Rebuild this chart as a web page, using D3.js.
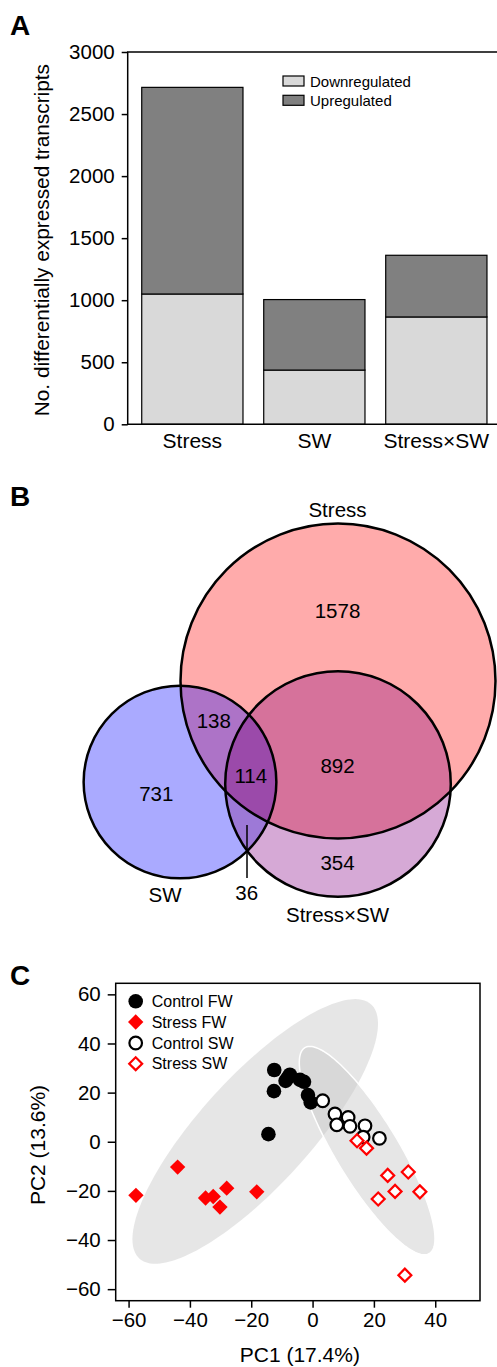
<!DOCTYPE html>
<html>
<head>
<meta charset="utf-8">
<script src="https://cdn.jsdelivr.net/npm/d3@7"></script>
<style>
  body { margin: 0; background: #fff; }
  svg { display: block; font-family: "Liberation Sans", Arial, Helvetica, sans-serif; }
</style>
</head>
<body>
<svg id="fig" width="497" height="1367"></svg>
<script>
// ---------- Panel A: differentially expressed transcripts ----------
const groups = ["Stress", "SW", "Stress\u00D7SW"];
const downregulated = [1050, 437, 865];
const upregulated = [1665, 568, 497];
const yTicksA = [0, 500, 1000, 1500, 2000, 2500, 3000];
const legendA = ["Downregulated", "Upregulated"];

// ---------- Panel B: Venn region counts ----------
const vennSets = ["Stress", "SW", "Stress\u00D7SW"];
const onlyStress = 1578;
const onlySW = 731;
const onlyInteraction = 354;
const stressAndSW = 138;
const stressAndInteraction = 892;
const swAndInteraction = 36;
const allThree = 114;

// ---------- Panel C: PCA scores ----------
const controlFW = [[-12.5, 29.2], [-7.4, 27.3], [-8.1, 26.0], [-8.8, 24.8], [-12.6, 20.6],
                   [-4.1, 25.2], [-2.8, 24.4], [-1.5, 19.0], [-0.6, 16.0], [-14.4, 3.1]];
const stressFW = [[-57.6, -21.8], [-44.0, -10.3], [-34.9, -22.9], [-32.4, -22.3],
                  [-30.2, -26.6], [-28.0, -18.9], [-18.2, -20.4]];
const controlSW = [[3.3, 16.7], [7.3, 11.3], [7.9, 6.9], [11.6, 9.9], [12.2, 6.3],
                   [17.1, 6.5], [16.5, 1.9], [21.8, 1.4]];
const stressSW = [[14.5, 0.4], [17.6, -2.6], [24.5, -13.7], [31.2, -12.3], [26.9, -20.2],
                  [21.4, -23.3], [35.0, -20.4], [30.1, -54.3]];
// group ellipses: centre, first and second half-axis vectors (PC units)
const ellipseFW = { c: [-18.7, 4.2], u: [37.8, 51.7], v: [13.2, -15.1] };
const ellipseSW = { c: [17.8, -3.6], u: [20.3, -41.9], v: [-8.8, -6.6] };
const xTicksC = [-60, -40, -20, 0, 20, 40];
const yTicksC = [-60, -40, -20, 0, 20, 40, 60];
const legendC = ["Control FW", "Stress FW", "Control SW", "Stress SW"];
const xTitleC = "PC1 (17.4%)";
const yTitleC = "PC2 (13.6%)";

const svg = d3.select("#fig");
const fmt = d => d < 0 ? "\u2212" + Math.abs(d) : String(d);

function panelLetter(t, y) {
  svg.append("text").attr("x", 10).attr("y", y)
    .attr("font-size", 28).attr("font-weight", "bold").text(t);
}

// ================= Panel A =================
panelLetter("A", 35);
const A = { left: 127.7, right: 501, top: 52, bottom: 424.3 };
const xA = d3.scaleBand().domain(groups).range([A.left, A.right])
  .paddingInner(0.17).paddingOuter(0.115);
const yA = d3.scaleLinear().domain([0, 3000]).range([A.bottom, A.top]);

const rowsA = groups.map((g, i) => ({ group: g, down: downregulated[i], up: upregulated[i] }));
const stacked = d3.stack().keys(["down", "up"])(rowsA);
const fillA = { down: "#d9d9d9", up: "#808080" };

const gA = svg.append("g");
stacked.forEach(layer => {
  gA.append("g").selectAll("rect").data(layer).join("rect")
    .attr("x", d => xA(d.data.group))
    .attr("width", xA.bandwidth())
    .attr("y", d => yA(d[1]))
    .attr("height", d => yA(d[0]) - yA(d[1]))
    .attr("fill", fillA[layer.key])
    .attr("stroke", "#000").attr("stroke-width", 1.2);
});

// frame
gA.append("path")
  .attr("d", `M${A.right},${A.top}H${A.left}V${A.bottom}H${A.right}`)
  .attr("fill", "none").attr("stroke", "#000").attr("stroke-width", 1.5);

const axA = gA.append("g").attr("transform", `translate(${A.left},0)`)
  .call(d3.axisLeft(yA).tickValues(yTicksA).tickFormat(d3.format("d"))
    .tickSize(6).tickPadding(7).tickSizeOuter(0));
axA.select(".domain").remove();
axA.selectAll("line").attr("stroke-width", 1.5);
axA.selectAll("text").attr("font-size", 20.5).attr("font-family", null).attr("fill", "#000");

gA.append("g").selectAll("text").data(groups).join("text")
  .attr("x", d => xA(d) + xA.bandwidth() / 2)
  .attr("y", 448)
  .attr("text-anchor", "middle").attr("font-size", 21).text(d => d);

gA.append("text")
  .attr("transform", `translate(49,${(A.top + A.bottom) / 2 + 2}) rotate(-90)`)
  .attr("text-anchor", "middle").attr("font-size", 20.8)
  .text("No. differentially expressed transcripts");

const legA = gA.append("g");
legendA.forEach((t, i) => {
  const key = i === 0 ? "down" : "up";
  legA.append("rect").attr("x", 283).attr("y", 76 + i * 19.3)
    .attr("width", 21).attr("height", 10)
    .attr("fill", fillA[key]).attr("stroke", "#000").attr("stroke-width", 1.2);
  legA.append("text").attr("x", 310).attr("y", 86.5 + i * 19.3)
    .attr("font-size", 15).text(t);
});

// ================= Panel B =================
panelLetter("B", 506);
const totals = [
  onlyStress + stressAndSW + stressAndInteraction + allThree,
  onlySW + stressAndSW + swAndInteraction + allThree,
  onlyInteraction + stressAndInteraction + swAndInteraction + allThree
];
const rScale = d3.scaleSqrt().domain([0, totals[0]]).range([0, 157.5]);
const centres = [[338, 681], [180, 782], [338, 784]];
const circles = vennSets.map((s, i) => ({ name: s, cx: centres[i][0], cy: centres[i][1], r: rScale(totals[i]) }));
const [cStress, cSW, cInt] = circles;

const defs = svg.append("defs");
circles.forEach((c, i) => {
  defs.append("clipPath").attr("id", "clip" + i)
    .append("circle").attr("cx", c.cx).attr("cy", c.cy).attr("r", c.r);
});

const gB = svg.append("g");
const disc = (sel, c, fill) => sel.append("circle")
  .attr("cx", c.cx).attr("cy", c.cy).attr("r", c.r).attr("fill", fill);

disc(gB, cStress, "#ffabab");
disc(gB, cInt, "#d6a9d6");
disc(gB, cSW, "#aaaaff");
disc(gB.append("g").attr("clip-path", "url(#clip0)"), cInt, "#d6729b");
disc(gB.append("g").attr("clip-path", "url(#clip0)"), cSW, "#ad73c7");
disc(gB.append("g").attr("clip-path", "url(#clip2)"), cSW, "#9d79d7");
disc(gB.append("g").attr("clip-path", "url(#clip0)").append("g").attr("clip-path", "url(#clip2)"), cSW, "#9b4aaa");

gB.selectAll("circle.outline").data(circles).join("circle")
  .attr("class", "outline")
  .attr("cx", d => d.cx).attr("cy", d => d.cy).attr("r", d => d.r)
  .attr("fill", "none").attr("stroke", "#000").attr("stroke-width", 2.5);

// leader line for the small SW ∩ Stress×SW region
gB.append("line").attr("x1", 247).attr("x2", 247).attr("y1", 825).attr("y2", 878)
  .attr("stroke", "#000").attr("stroke-width", 1.5);

const vennLabels = [
  { t: onlyStress, x: 337.5, y: 618 },
  { t: stressAndSW, x: 213.8, y: 728 },
  { t: allThree, x: 250.8, y: 782.5 },
  { t: stressAndInteraction, x: 337.5, y: 773 },
  { t: onlySW, x: 156.3, y: 801 },
  { t: onlyInteraction, x: 337.5, y: 870 },
  { t: swAndInteraction, x: 246.7, y: 899.5 }
];
gB.append("g").selectAll("text").data(vennLabels).join("text")
  .attr("x", d => d.x).attr("y", d => d.y)
  .attr("text-anchor", "middle").attr("font-size", 20.5).text(d => d.t);

const setLabelPos = [[337.5, 517], [165, 902], [337.5, 922]];
gB.append("g").selectAll("text").data(vennSets).join("text")
  .attr("x", (d, i) => setLabelPos[i][0]).attr("y", (d, i) => setLabelPos[i][1])
  .attr("text-anchor", "middle").attr("font-size", 20.5).text(d => d);

// ================= Panel C =================
panelLetter("C", 985);
const C = { left: 115.7, right: 480, top: 983.3, bottom: 1300.7 };
const xC = d3.scaleLinear().domain([-64.2, 54.6]).range([C.left, C.right]);
const yC = d3.scaleLinear().domain([-64.7, 64.5]).range([C.bottom, C.top]);
const gC = svg.append("g");

const ellipsePts = e => d3.range(0, 361, 2).map(a => {
  const t = a * Math.PI / 180;
  return [e.c[0] + Math.cos(t) * e.u[0] + Math.sin(t) * e.v[0],
          e.c[1] + Math.cos(t) * e.u[1] + Math.sin(t) * e.v[1]];
});
const lineC = d3.line().x(d => xC(d[0])).y(d => yC(d[1])).curve(d3.curveLinearClosed);

gC.append("path").attr("d", lineC(ellipsePts(ellipseFW)))
  .attr("fill", "rgb(200,200,200)").attr("fill-opacity", 0.45);
gC.append("path").attr("d", lineC(ellipsePts(ellipseSW)))
  .attr("fill", "rgb(200,200,200)").attr("fill-opacity", 0.45)
  .attr("stroke", "#fff").attr("stroke-width", 1.5);

const styles = [
  { data: controlFW, sym: d3.symbol(d3.symbolCircle, Math.PI * 7.3 * 7.3), fill: "#000", stroke: "none", rot: 0 },
  { data: stressFW, sym: d3.symbol(d3.symbolSquare, 118), fill: "#ff0000", stroke: "none", rot: 45 },
  { data: controlSW, sym: d3.symbol(d3.symbolCircle, Math.PI * 6.3 * 6.3), fill: "#fff", stroke: "#000", rot: 0 },
  { data: stressSW, sym: d3.symbol(d3.symbolSquare, 84), fill: "#fff", stroke: "#ff0000", rot: 45 }
];
styles.forEach(s => {
  gC.append("g").selectAll("path").data(s.data).join("path")
    .attr("d", s.sym())
    .attr("transform", d => `translate(${xC(d[0])},${yC(d[1])}) rotate(${s.rot})`)
    .attr("fill", s.fill).attr("stroke", s.stroke).attr("stroke-width", 2.2);
});

gC.append("rect").attr("x", C.left).attr("y", C.top)
  .attr("width", C.right - C.left).attr("height", C.bottom - C.top)
  .attr("fill", "none").attr("stroke", "#000").attr("stroke-width", 1.5);

const axXC = gC.append("g").attr("transform", `translate(0,${C.bottom})`)
  .call(d3.axisBottom(xC).tickValues(xTicksC).tickFormat(fmt).tickSize(7).tickPadding(5).tickSizeOuter(0));
const axYC = gC.append("g").attr("transform", `translate(${C.left},0)`)
  .call(d3.axisLeft(yC).tickValues(yTicksC).tickFormat(fmt).tickSize(8).tickPadding(7).tickSizeOuter(0));
[axXC, axYC].forEach(ax => {
  ax.select(".domain").remove();
  ax.selectAll("line").attr("stroke-width", 1.5);
  ax.selectAll("text").attr("font-size", 20.5).attr("font-family", null).attr("fill", "#000");
});

gC.append("text").attr("x", (C.left + C.right) / 2 + 2).attr("y", 1362)
  .attr("text-anchor", "middle").attr("font-size", 21).text(xTitleC);
gC.append("text")
  .attr("transform", `translate(45,${(C.top + C.bottom) / 2 + 3}) rotate(-90)`)
  .attr("text-anchor", "middle").attr("font-size", 21).text(yTitleC);

const legC = gC.append("g");
const legRows = [1001.3, 1022, 1043, 1063.7];
styles.forEach((s, i) => {
  legC.append("path").attr("d", s.sym())
    .attr("transform", `translate(135.7,${legRows[i]}) rotate(${s.rot})`)
    .attr("fill", s.fill).attr("stroke", s.stroke).attr("stroke-width", 2.2);
  legC.append("text").attr("x", 151.7).attr("y", legRows[i]).attr("dy", "0.36em")
    .attr("font-size", 16).text(legendC[i]);
});
</script>
</body>
</html>
